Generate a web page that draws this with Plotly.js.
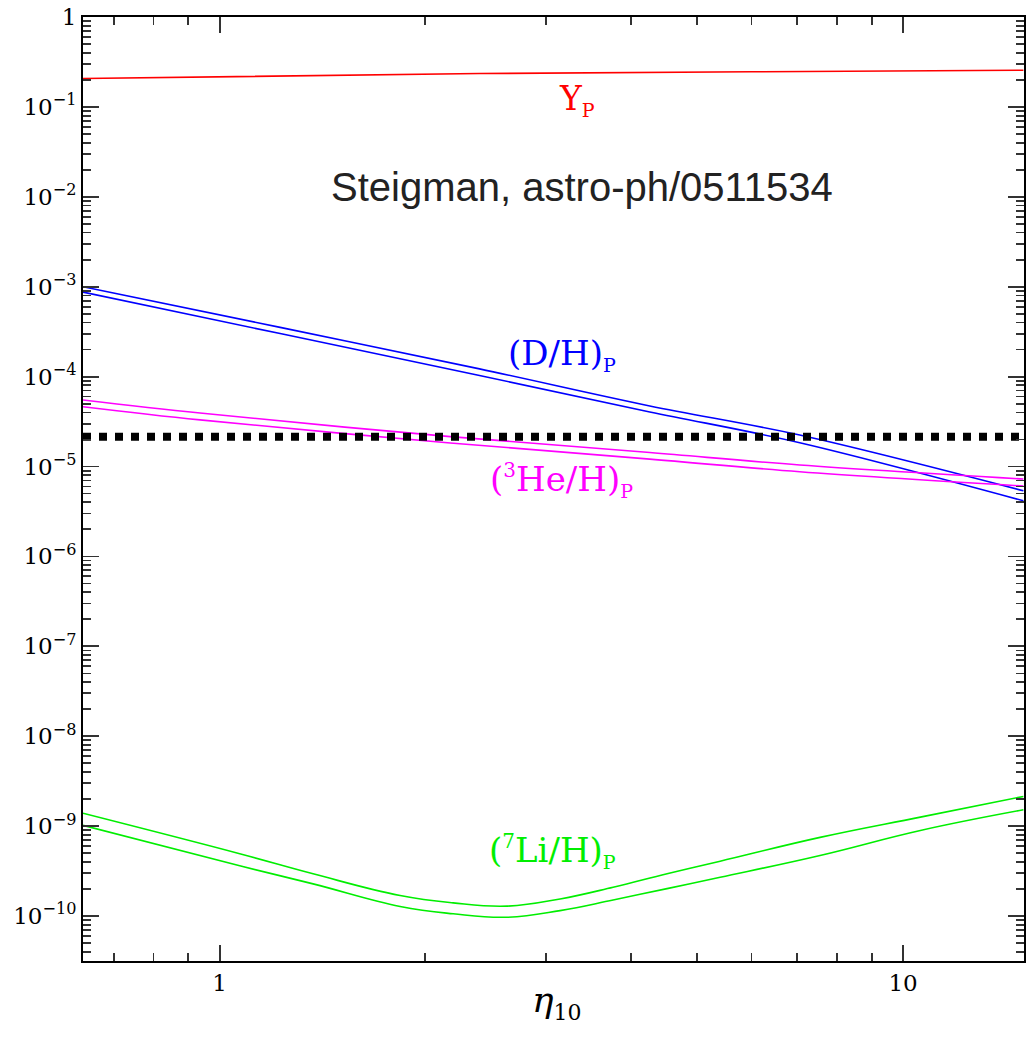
<!DOCTYPE html>
<html>
<head>
<meta charset="utf-8">
<script src="https://cdn.plot.ly/plotly-3.0.1.min.js"></script>
<style>html,body{margin:0;padding:0;background:#fff;}#chart{width:1026px;height:1041px;}</style>
</head>
<body>
<div id="chart"></div>
<script>
// ---- data ----
const etaYp = [0.631, 1.31, 2.4, 6.0, 15.0];
const ypVals = [0.207, 0.223, 0.235, 0.246, 0.256];

const etaD = [0.631, 1.226, 2.40, 4.26, 7.06, 15.0];
const dhHigh = [1.00e-3, 3.53e-4, 1.22e-4, 4.72e-5, 2.24e-5, 5.37e-6];
const dhLow  = [8.71e-4, 3.01e-4, 1.03e-4, 4.05e-5, 1.84e-5, 4.16e-6];

const etaHe = [0.631, 0.936, 2.175, 4.26, 7.06, 15.0];
const heHigh = [5.50e-5, 3.94e-5, 2.15e-5, 1.43e-5, 1.04e-5, 7.26e-6];
const heLow  = [4.63e-5, 3.30e-5, 1.83e-5, 1.21e-5, 8.75e-6, 6.07e-6];

const etaLi = [0.631, 1.07, 1.37, 1.837, 2.196, 2.634, 3.149, 3.765, 4.515, 5.40, 7.56, 10.6, 15.0];
const liHigh = [1.39e-9, 4.93e-10, 2.95e-10, 1.69e-10, 1.40e-10, 1.29e-10, 1.55e-10, 2.09e-10, 2.95e-10, 4.07e-10, 7.5e-10, 1.26e-9, 2.14e-9];
const liLow  = [1.02e-9, 3.62e-10, 2.28e-10, 1.28e-10, 1.06e-10, 9.7e-11, 1.15e-10, 1.51e-10, 2.02e-10, 2.70e-10, 4.72e-10, 8.95e-10, 1.52e-9];

const etaObs = [0.631, 15.0];
const obsVals = [2.15e-5, 2.15e-5];

const xTickVals = [1, 10];
const xTickText = ['1', '10'];
const yExponents = [0, -1, -2, -3, -4, -5, -6, -7, -8, -9, -10];
const yTickVals = yExponents.map(p => Math.pow(10, p));
const yTickText = yExponents.map(p => p === 0 ? '1' : '10<sup>\u2212' + Math.abs(p) + '</sup>');

// minor ticks (2..9 in each decade)
const xMinor = [];
for (let d = -1; d <= 1; d++) for (let m = 2; m <= 9; m++) xMinor.push(m * Math.pow(10, d));
const yMinor = [];
for (let d = -11; d <= 0; d++) for (let m = 2; m <= 9; m++) yMinor.push(m * Math.pow(10, d));

const lw = 1.6;
const traces = [
  {x: etaYp, y: ypVals, mode: 'lines', line: {color: '#ff0000', width: lw}},
  {x: etaD, y: dhHigh, mode: 'lines', line: {color: '#0000ff', width: lw, shape: 'spline'}},
  {x: etaD, y: dhLow, mode: 'lines', line: {color: '#0000ff', width: lw, shape: 'spline'}},
  {x: etaHe, y: heHigh, mode: 'lines', line: {color: '#ff00ff', width: lw, shape: 'spline'}},
  {x: etaHe, y: heLow, mode: 'lines', line: {color: '#ff00ff', width: lw, shape: 'spline'}},
  {x: etaLi, y: liHigh, mode: 'lines', line: {color: '#00ee00', width: lw, shape: 'spline', smoothing: 1.2}},
  {x: etaLi, y: liLow, mode: 'lines', line: {color: '#00ee00', width: lw, shape: 'spline', smoothing: 1.2}},
  {x: etaObs, y: obsVals, mode: 'lines', line: {color: '#000000', width: 8, dash: '8px,8px'}}
];

const serif = 'DejaVu Serif, serif';
const axisCommon = {
  type: 'log', showgrid: false, zeroline: false,
  showline: true, linecolor: '#000', linewidth: 2, mirror: 'allticks',
  ticks: 'inside', ticklen: 16, tickwidth: 1.8, tickcolor: '#333',
  tickfont: {family: serif, size: 23, color: '#000'}
};

const layout = {
  width: 1026, height: 1041,
  margin: {l: 83, r: 2, t: 17, b: 80},
  paper_bgcolor: '#fff', plot_bgcolor: '#fff',
  showlegend: false,
  xaxis: Object.assign({}, axisCommon, {
    range: [Math.log10(0.631), Math.log10(15.03)],
    tickmode: 'array', tickvals: xTickVals, ticktext: xTickText,
    minor: {tickmode: 'array', tickvals: xMinor, ticks: 'inside', ticklen: 8, tickwidth: 1.8, tickcolor: '#333', showgrid: false}
  }),
  yaxis: Object.assign({}, axisCommon, {
    range: [-10.5, 0],
    tickmode: 'array', tickvals: yTickVals, ticktext: yTickText,
    minor: {tickmode: 'array', tickvals: yMinor, ticks: 'inside', ticklen: 8, tickwidth: 1.8, tickcolor: '#333', showgrid: false}
  }),
  annotations: [
    {xref: 'paper', yref: 'paper', x: (557 - 83) / 941, y: 1 - (1002 - 17) / 944, text: '<i>η</i><sub><span style="font-size:22px">10</span></sub>',
     showarrow: false, xanchor: 'center', yanchor: 'middle', font: {family: serif, size: 36, color: '#000'}},
    {xref: 'paper', yref: 'paper', x: (582 - 83) / 941, y: 1 - (187 - 17) / 944, text: 'Steigman, astro-ph/0511534',
     showarrow: false, xanchor: 'center', yanchor: 'middle', font: {family: 'Liberation Sans, Arial, sans-serif', size: 40, color: '#222'}},
    {xref: 'paper', yref: 'paper', x: (577 - 83) / 941, y: 1 - (100 - 17) / 944, text: 'Y<sub><span style="font-size:19px">P</span></sub>',
     showarrow: false, xanchor: 'center', yanchor: 'middle', font: {family: serif, size: 33, color: '#ff0000'}},
    {xref: 'paper', yref: 'paper', x: (562 - 83) / 941, y: 1 - (354 - 17) / 944, text: '(D/H)<sub><span style="font-size:19px">P</span></sub>',
     showarrow: false, xanchor: 'center', yanchor: 'middle', font: {family: serif, size: 34, color: '#0000ff'}},
    {xref: 'paper', yref: 'paper', x: (561 - 83) / 941, y: 1 - (480 - 17) / 944, text: '(<sup><span style="font-size:20px">3</span></sup>He/H)<sub><span style="font-size:19px">P</span></sub>',
     showarrow: false, xanchor: 'center', yanchor: 'middle', font: {family: serif, size: 34, color: '#ff00ff'}},
    {xref: 'paper', yref: 'paper', x: (552 - 83) / 941, y: 1 - (851 - 17) / 944, text: '(<sup><span style="font-size:20px">7</span></sup>Li/H)<sub><span style="font-size:19px">P</span></sub>',
     showarrow: false, xanchor: 'center', yanchor: 'middle', font: {family: serif, size: 34, color: '#00ee00'}}
  ]
};

Plotly.newPlot('chart', traces, layout, {displayModeBar: false, staticPlot: true});
</script>
</body>
</html>
